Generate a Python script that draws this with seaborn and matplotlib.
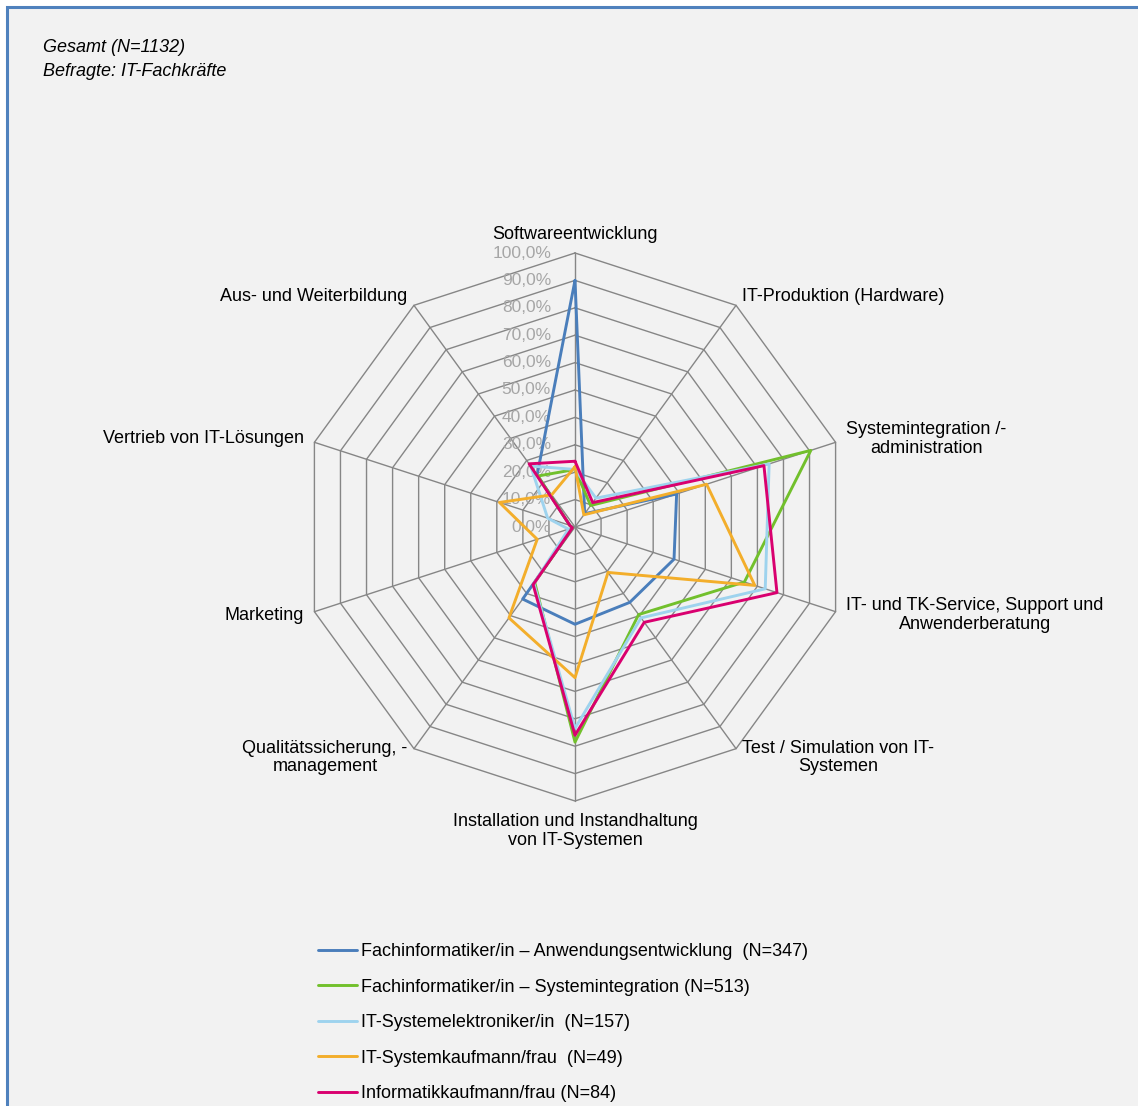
import numpy as np
import pandas as pd
import matplotlib
matplotlib.use("Agg")
import matplotlib.pyplot as plt
import matplotlib.transforms as mtransforms
from matplotlib.patches import Rectangle
import seaborn as sns

# dane (w %)

kategorien = ['Softwareentwicklung', 'IT-Produktion (Hardware)', 'Systemintegration /-\nadministration',
              'IT- und TK-Service, Support und\nAnwenderberatung', 'Test / Simulation von IT-\nSystemen',
              'Installation und Instandhaltung\nvon IT-Systemen', 'Qualitätssicherung, -\nmanagement',
              'Marketing', 'Vertrieb von IT-Lösungen', 'Aus- und Weiterbildung']

gruppen = ['Fachinformatiker/in – Anwendungsentwicklung  (N=347)',
           'Fachinformatiker/in – Systemintegration (N=513)',
           'IT-Systemelektroniker/in  (N=157)',
           'IT-Systemkaufmann/frau  (N=49)',
           'Informatikkaufmann/frau (N=84)']

anwendung = [90, 6, 39, 38, 34, 35.5, 32.5, 1, 2, 23.5]
systemintegration = [21, 9.7, 90.5, 65, 39.5, 78.5, 25, 1, 2, 23]
elektroniker = [21, 13, 74.5, 73, 41, 73.5, 25.5, 2.5, 10.5, 27.5]
systemkaufmann = [22, 5.5, 50.5, 69, 20.5, 55, 41, 14.5, 29, 14.5]
informatikkaufmann = [24, 11, 72.5, 77.5, 43, 76, 26, 1, 2, 28.5]

skala = [0, 10, 20, 30, 40, 50, 60, 70, 80, 90, 100]
skala_labels = ['0,0%', '10,0%', '20,0%', '30,0%', '40,0%', '50,0%', '60,0%', '70,0%', '80,0%', '90,0%', '100,0%']

farben = ['#4A7EBB', '#72C02C', '#9ED3EE', '#F3AE2B', '#D9006F']

# tabela dla seaborn (zamkniety wielokat)
serien = [anwendung, systemintegration, elektroniker, systemkaufmann, informatikkaufmann]
n = len(kategorien)
winkel = np.linspace(0, 2 * np.pi, n, endpoint=False)
wiersze = []
for g, werte in zip(gruppen, serien):
    for i in range(n + 1):
        wiersze.append({'gruppe': g, 'winkel': 2 * np.pi * i / n, 'wert': werte[i % n]})
df = pd.DataFrame(wiersze)

sns.set_style("white")
plt.rcParams['font.family'] = ['Liberation Sans', 'DejaVu Sans']
plt.rcParams['text.color'] = 'black'

fig = plt.figure(figsize=(11.38, 11.06), dpi=100)
fig.patch.set_facecolor('white')
tlo = Rectangle((7 / 1138, -0.05), 1.2, 1 - 7 / 1106 + 0.05, transform=fig.transFigure,
                facecolor='#F2F2F2', edgecolor='#4F81BD', linewidth=2.2, zorder=0)
fig.add_artist(tlo)

R = 274
cx, cy = 575, 527
ax = fig.add_axes([(cx - R) / 1138, (1106 - cy - R) / 1106, 2 * R / 1138, 2 * R / 1106], projection='polar')
ax.set_theta_zero_location('N')
ax.set_theta_direction(-1)
ax.patch.set_alpha(0)
ax.grid(False)
ax.spines['polar'].set_visible(False)

# siatka - dziesieciokaty
zamkniete = np.append(winkel, winkel[0])
for poziom in skala[1:]:
    ax.plot(zamkniete, [poziom] * (n + 1), color='#868686', lw=1.0, clip_on=False, zorder=1)
for w in winkel:
    ax.plot([w, w], [0, 100], color='#868686', lw=1.0, clip_on=False, zorder=1)

sns.lineplot(data=df, x='winkel', y='wert', hue='gruppe', hue_order=gruppen, palette=farben,
             sort=False, estimator=None, lw=2.1, ax=ax, zorder=3)

ax.set_ylim(0, 100)
ax.set_xticks([])
ax.set_yticks([])
ax.set_xlabel('')
ax.set_ylabel('')

# etykiety skali
przes = mtransforms.offset_copy(ax.transData, fig=fig, x=-24, y=0, units='dots')
for poziom, lab in zip(skala, skala_labels):
    ax.text(0, poziom, lab, transform=przes, ha='right', va='center', fontsize=12.5, color='#A6A6A6', zorder=2)

# etykiety kategorii
for w, kat in zip(winkel, kategorien):
    s = np.sin(w)
    if abs(s) < 1e-6:
        if np.cos(w) > 0:
            ax.text(w, 103.5, kat, ha='center', va='bottom', fontsize=13, multialignment='center')
        else:
            ax.text(w, 104.5, kat, ha='center', va='top', fontsize=13, multialignment='center',
                    linespacing=1.1)
    elif s > 0:
        ax.text(w, 104, kat, ha='left', va='center', fontsize=13, multialignment='center', linespacing=1.1)
    else:
        ax.text(w, 104, kat, ha='right', va='center', fontsize=13, multialignment='center', linespacing=1.1)

# legenda
uchwyty, etykiety = ax.get_legend_handles_labels()
ax.get_legend().remove()
fig.legend(uchwyty, etykiety, loc='upper left', bbox_to_anchor=(318 / 1138, 1 - 943 / 1106),
           frameon=False, fontsize=13, handlelength=2.16, handletextpad=0.22, labelspacing=1.03,
           borderpad=0, borderaxespad=0)

# tytul
fig.text(43 / 1138, 1 - 48 / 1106, 'Gesamt (N=1132)', fontsize=13, style='italic', va='center')
fig.text(43 / 1138, 1 - 71 / 1106, 'Befragte: IT-Fachkräfte', fontsize=13, style='italic', va='center')

plt.savefig('out.png', dpi=100)
